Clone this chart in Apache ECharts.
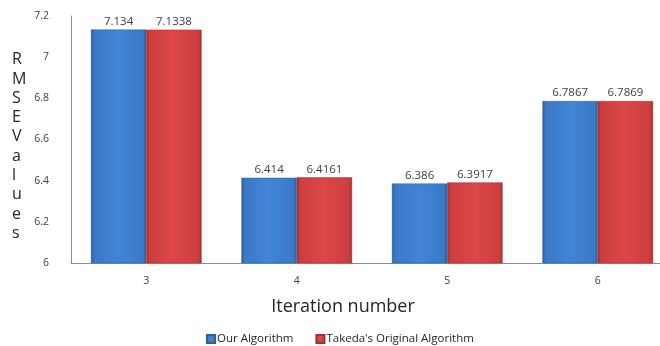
<!DOCTYPE html>
<html>
<head>
<meta charset="utf-8">
<script src="https://cdn.jsdelivr.net/npm/echarts@6/dist/echarts.min.js"></script>
<style>
  html, body { margin: 0; padding: 0; background: #ffffff; }
  #chart { width: 660px; height: 346px; }
</style>
</head>
<body>
<div id="chart"></div>
<script>
// Iteration numbers on the category axis
const iterations = ['3', '4', '5', '6'];
// RMSE per iteration for each algorithm
const ourAlgorithm = [7.134, 6.414, 6.386, 6.7867];
const takedaOriginal = [7.1338, 6.4161, 6.3917, 6.7869];
const seriesNames = ['Our Algorithm', "Takeda's Original Algorithm"];

const FONT = '"Open Sans", "Liberation Sans", sans-serif';

function bevel(light, mid, dark) {
  return new echarts.graphic.LinearGradient(0, 0, 1, 0, [
    { offset: 0, color: dark },
    { offset: 0.06, color: mid },
    { offset: 0.5, color: light },
    { offset: 0.94, color: mid },
    { offset: 1, color: dark }
  ]);
}

const labelStyle = {
  show: true,
  position: 'top',
  distance: 2,
  fontFamily: FONT,
  fontSize: 11.5,
  color: '#404040'
};

const chart = echarts.init(document.getElementById('chart'));
chart.setOption({
  animation: false,
  backgroundColor: '#ffffff',
  grid: { left: 71, top: 16, width: 602, height: 247, containLabel: false, outerBoundsMode: 'none' },
  legend: {
    data: seriesNames,
    top: 328,
    left: 201,
    itemWidth: 8,
    itemHeight: 8,
    itemGap: 22,
    icon: 'rect',
    textStyle: { fontFamily: FONT, fontSize: 11.5, color: '#262626', padding: [0, 0, 0, -3] }
  },
  graphic: [{
    type: 'text',
    left: 12,
    top: 50,
    style: {
      text: 'R\nM\nS\nE\nV\na\nl\nu\ne\ns',
      fontFamily: FONT,
      fontSize: 16,
      lineHeight: 19.3,
      align: 'center',
      fill: '#262626'
    }
  }, {
    type: 'text',
    x: 343,
    y: 307,
    style: {
      text: 'Iteration number',
      fontFamily: FONT,
      fontSize: 18,
      align: 'center',
      verticalAlign: 'middle',
      fill: '#262626'
    }
  }],
  xAxis: {
    type: 'category',
    data: iterations,
    axisLine: { lineStyle: { color: '#8c8c8c' } },
    axisTick: { show: false },
    axisLabel: { fontFamily: FONT, fontSize: 10.5, color: '#404040', margin: 13 }
  },
  yAxis: {
    type: 'value',
    min: 6,
    max: 7.2,
    interval: 0.2,
    axisLine: { show: true, lineStyle: { color: '#8c8c8c' } },
    axisTick: { show: false },
    splitLine: { show: false },
    axisLabel: { fontFamily: FONT, fontSize: 10.5, color: '#404040', margin: 22 }
  },
  series: [
    {
      name: seriesNames[0],
      type: 'bar',
      data: ourAlgorithm,
      barGap: '0%',
      barCategoryGap: '26.5%',
      itemStyle: {
        color: bevel('#4285d6', '#3a79c6', '#2b5c9c'),
        borderColor: '#2f5f9c',
        borderWidth: 0.5
      },
      label: labelStyle
    },
    {
      name: seriesNames[1],
      type: 'bar',
      data: takedaOriginal,
      itemStyle: {
        color: bevel('#dc4747', '#cc3e3e', '#a22d2d'),
        borderColor: '#a33030',
        borderWidth: 0.5
      },
      label: labelStyle
    }
  ]
});
</script>
</body>
</html>
